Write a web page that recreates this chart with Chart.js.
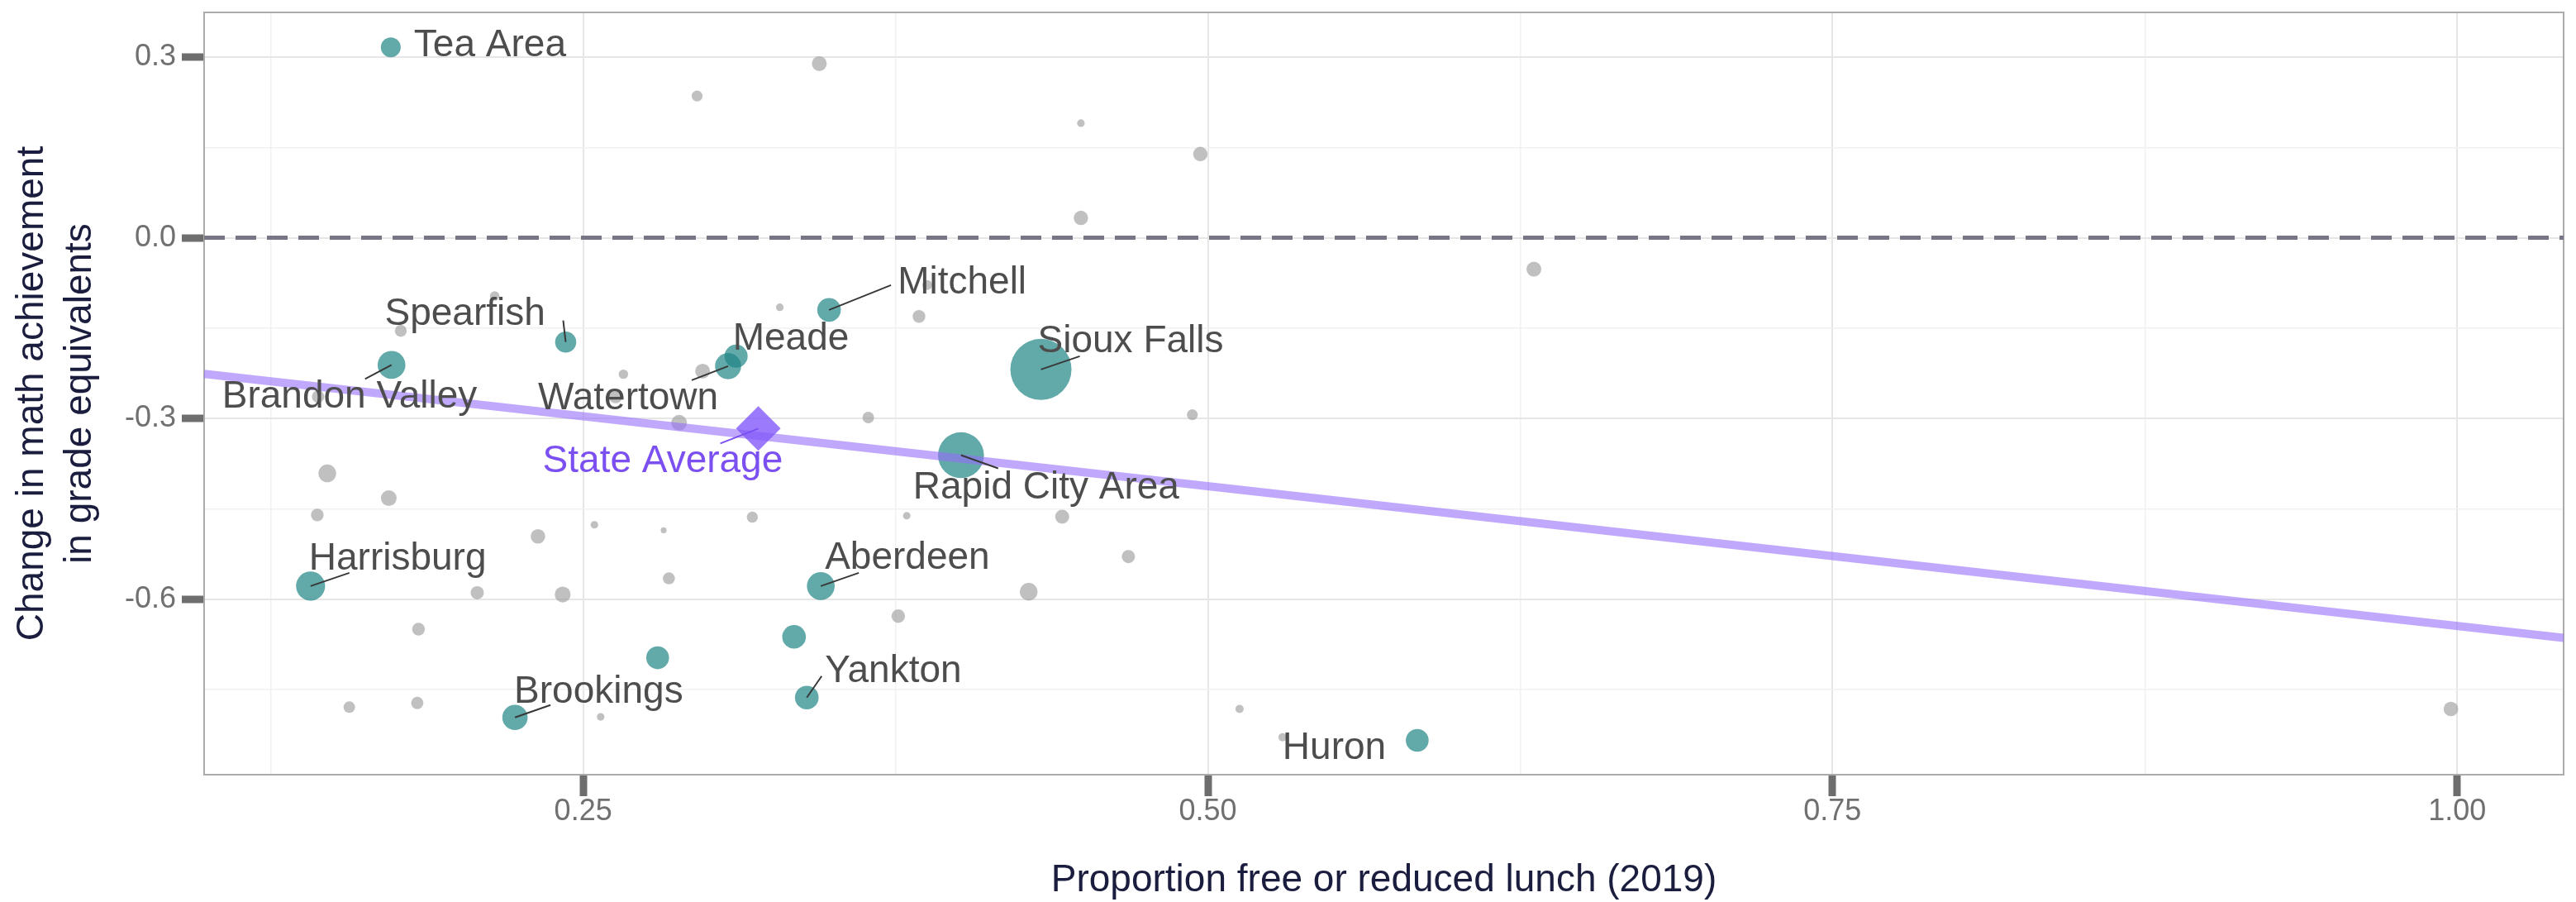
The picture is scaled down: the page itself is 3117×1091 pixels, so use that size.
<!DOCTYPE html>
<html>
<head>
<meta charset="utf-8">
<script src="https://cdn.jsdelivr.net/npm/chart.js@4.4.1/dist/chart.umd.min.js"></script>
<style>
html,body{margin:0;padding:0;background:#ffffff;}
#wrap{width:3117px;height:1091px;position:relative;}
</style>
</head>
<body>
<div id="wrap"><canvas id="c"></canvas></div>
<script>
// ---------------- DATA ----------------
// Highlighted districts (teal); null name = highlighted but unlabeled
const districtNames  = ['Tea Area','Spearfish','Brandon Valley','Watertown','Meade','Mitchell','Sioux Falls','Rapid City Area','Harrisburg','Aberdeen','Yankton','Brookings','Huron',null,null];
const districtFRL    = [0.173, 0.243, 0.1733, 0.308, 0.3112, 0.3484, 0.4332, 0.4012, 0.1409, 0.3451, 0.3395, 0.2227, 0.5838, 0.2798, 0.3344];
const districtChange = [0.316, -0.173, -0.211, -0.213, -0.1965, -0.1197, -0.2185, -0.3608, -0.578, -0.578, -0.763, -0.796, -0.834, -0.697, -0.6622];
const districtEnroll = [2500, 2844, 4900, 4334, 3403, 3550, 23767, 13417, 5378, 4900, 3550, 4064, 3306, 3306, 3550];

// Other districts (grey)
const otherFRL    = [0.3445, 0.2956, 0.4492, 0.497, 0.4492, 0.6305, 0.2146, 0.177, 0.2661, 0.3287, 0.3844, 0.3877, 0.2978, 0.1439, 0.263, 0.2884, 0.3641, 0.4938, 0.1476, 0.1722, 0.1436, 0.2319, 0.2545, 0.2822, 0.3177, 0.3795, 0.4417, 0.4682, 0.2076, 0.2418, 0.2843, 0.4283, 0.1841, 0.3761, 0.1564, 0.1836, 0.257, 0.5127, 0.5299, 0.9975];
const otherChange = [0.289, 0.2353, 0.1903, 0.139, 0.033, -0.0521, -0.0966, -0.1545, -0.2264, -0.1154, -0.1305, -0.0783, -0.2213, -0.2637, -0.2637, -0.307, -0.2983, -0.2936, -0.391, -0.432, -0.46, -0.4955, -0.4763, -0.4854, -0.4637, -0.4612, -0.4628, -0.529, -0.589, -0.592, -0.5652, -0.5874, -0.6495, -0.628, -0.779, -0.772, -0.795, -0.782, -0.829, -0.782];
const otherEnroll = [1406, 756, 367, 1314, 1314, 1406, 584, 900, 564, 367, 1029, 625, 1406, 977, 1111, 1567, 851, 756, 1988, 1567, 1029, 1344, 367, 213, 779, 352, 1254, 1111, 1111, 1600, 925, 1988, 1029, 1167, 851, 951, 367, 434, 434, 1344];

// State average
const stateLabel  = 'State Average';
const stateFRL    = [0.3201];
const stateChange = [-0.3166];

// Fitted regression line (change = intercept + slope * FRL)
const fitIntercept = -0.1803;
const fitSlope     = -0.464;

// Axes
const xRange = [0.0983, 1.0426];
const yRange = [-0.891, 0.374];
const xTicks      = [0.125, 0.25, 0.375, 0.5, 0.625, 0.75, 0.875, 1.0];
const xTickLabels = ['', '0.25', '', '0.50', '', '0.75', '', '1.00'];
const yTicks      = [-0.75, -0.6, -0.45, -0.3, -0.15, 0, 0.15, 0.3];
const yTickLabels = ['', '-0.6', '', '-0.3', '', '0.0', '', '0.3'];

const xTitle = 'Proportion free or reduced lunch (2019)';
const yTitle = ['Change in math achievement', 'in grade equivalents'];

// ---------------- LAYOUT / STYLE ----------------
// label offsets relative to point pixel: [textLeftDx, baselineDy, segEndDx, segEndDy]
const labelLayout = {
  'Tea Area':        [28, 11, null, null],
  'Spearfish':       [-219, -21, -3, -26],
  'Brandon Valley':  [-205, 52, -32, 17],
  'Watertown':       [-230, 52, -44, 17],
  'Meade':           [-4, -8, null, null],
  'Mitchell':        [83, -20, 75, -30],
  'Sioux Falls':     [-4, -21, 47, -16],
  'Rapid City Area': [-58, 52, 45, 16],
  'Harrisburg':      [-2, -20, 47, -16],
  'Aberdeen':        [5, -21, 46, -16],
  'Yankton':         [22, -19, 18, -26],
  'Brookings':       [-1, -18, 43, -15],
  'Huron':           [-163, 23, null, null]
};
const stateLayout = [-261, 53, -46, 18];

const FONT = '"Liberation Sans", Arial, Helvetica, sans-serif';
const radiusOf = n => 0.24 * Math.sqrt(n);
const isMajor = (arr, labels, v) => {
  const i = arr.findIndex(t => Math.abs(t - v) < 1e-9);
  return i >= 0 && labels[i] !== '';
};
const labelOf = (arr, labels, v) => {
  const i = arr.findIndex(t => Math.abs(t - v) < 1e-9);
  return i >= 0 ? labels[i] : '';
};

const framePlugin = {
  id: 'frame',
  beforeDatasetsDraw(chart) {
    const {ctx, chartArea: a} = chart;
    ctx.save();
    ctx.strokeStyle = '#ababab';
    ctx.lineWidth = 2;
    ctx.strokeRect(a.left, a.top, a.right - a.left, a.bottom - a.top);
    ctx.restore();
  }
};

const labelPlugin = {
  id: 'pointLabels',
  afterDatasetsDraw(chart) {
    const {ctx, scales: {x, y}} = chart;
    ctx.save();
    ctx.font = '46px ' + FONT;
    ctx.textAlign = 'left';
    ctx.textBaseline = 'alphabetic';
    districtNames.forEach((nm, i) => {
      if (!nm || !labelLayout[nm]) return;
      const L = labelLayout[nm];
      const px = x.getPixelForValue(districtFRL[i]);
      const py = y.getPixelForValue(districtChange[i]);
      if (L[2] !== null) {
        ctx.strokeStyle = '#383838';
        ctx.lineWidth = 2;
        ctx.beginPath();
        ctx.moveTo(px, py);
        ctx.lineTo(px + L[2], py + L[3]);
        ctx.stroke();
      }
      ctx.fillStyle = '#4d4d4d';
      ctx.fillText(nm, px + L[0], py + L[1]);
    });
    const sx = x.getPixelForValue(stateFRL[0]);
    const sy = y.getPixelForValue(stateChange[0]);
    ctx.strokeStyle = '#7b4ff0';
    ctx.lineWidth = 2;
    ctx.beginPath();
    ctx.moveTo(sx, sy);
    ctx.lineTo(sx + stateLayout[2], sy + stateLayout[3]);
    ctx.stroke();
    ctx.fillStyle = '#7b4ff0';
    ctx.fillText(stateLabel, sx + stateLayout[0], sy + stateLayout[1]);
    ctx.restore();
  }
};

const districtPts = districtFRL.map((v, i) => ({x: v, y: districtChange[i]}));
const otherPts = otherFRL.map((v, i) => ({x: v, y: otherChange[i]}));
const statePts = stateFRL.map((v, i) => ({x: v, y: stateChange[i]}));
const fitPts = xRange.map(v => ({x: v, y: fitIntercept + fitSlope * v}));
const zeroPts = xRange.map(v => ({x: v, y: 0}));

new Chart(document.getElementById('c'), {
  type: 'scatter',
  data: {
    datasets: [
      { type: 'line', label: 'zero', data: zeroPts, order: 6,
        borderColor: '#767686', borderWidth: 5, borderDash: [25, 13],
        pointRadius: 0, fill: false },
      { label: 'other', data: otherPts, order: 5,
        backgroundColor: 'rgba(150,150,150,0.6)', borderWidth: 0,
        pointRadius: ctx => radiusOf(otherEnroll[ctx.dataIndex]) },
      { label: 'district', data: districtPts, order: 4,
        backgroundColor: 'rgba(31,132,132,0.7)', borderWidth: 0,
        pointRadius: ctx => radiusOf(districtEnroll[ctx.dataIndex]) },
      { type: 'line', label: 'fit', data: fitPts, order: 3,
        borderColor: 'rgba(150,110,250,0.6)', borderWidth: 10,
        pointRadius: 0, fill: false },
      { label: 'state', data: statePts, order: 2,
        backgroundColor: 'rgba(130,90,250,0.8)', borderWidth: 0,
        pointStyle: 'rectRot', pointRadius: 27 }
    ]
  },
  options: {
    responsive: true,
    maintainAspectRatio: false,
    devicePixelRatio: 1,
    animation: false,
    events: [],
    layout: { autoPadding: false, padding: { left: 0, top: 15, right: 15, bottom: 0 } },
    plugins: { legend: { display: false }, tooltip: { enabled: false } },
    scales: {
      x: {
        type: 'linear', position: 'bottom',
        min: xRange[0], max: xRange[1],
        afterBuildTicks: s => { s.ticks = xTicks.map(v => ({value: v})); },
        afterFit: s => { s.height = 154; s.paddingLeft = 0; s.paddingRight = 0; },
        border: { display: false },
        grid: {
          color: c => isMajor(xTicks, xTickLabels, c.tick.value) ? '#e6e6e6' : '#f1f1f1',
          lineWidth: c => isMajor(xTicks, xTickLabels, c.tick.value) ? 2 : 1.5,
          drawTicks: true, tickLength: 26,
          tickColor: c => isMajor(xTicks, xTickLabels, c.tick.value) ? '#6e6e6e' : 'rgba(0,0,0,0)',
          tickWidth: c => isMajor(xTicks, xTickLabels, c.tick.value) ? 9 : 0
        },
        ticks: {
          autoSkip: false, maxRotation: 0, minRotation: 0,
          padding: 1,
          color: '#707070',
          font: { family: FONT, size: 36, lineHeight: 1.0 },
          callback: v => labelOf(xTicks, xTickLabels, v)
        },
        title: {
          display: true, text: xTitle, color: '#1a1d3d',
          font: { family: FONT, size: 46, lineHeight: 1.1 },
          padding: { top: 0, bottom: 0 }
        }
      },
      y: {
        type: 'linear', position: 'left',
        min: yRange[0], max: yRange[1],
        afterBuildTicks: s => { s.ticks = yTicks.map(v => ({value: v})); },
        afterFit: s => { s.width = 247; s.paddingTop = 0; s.paddingBottom = 0; },
        border: { display: false },
        grid: {
          color: c => isMajor(yTicks, yTickLabels, c.tick.value) ? '#e6e6e6' : '#f1f1f1',
          lineWidth: c => isMajor(yTicks, yTickLabels, c.tick.value) ? 2 : 1.5,
          drawTicks: true, tickLength: 27,
          tickColor: c => isMajor(yTicks, yTickLabels, c.tick.value) ? '#6e6e6e' : 'rgba(0,0,0,0)',
          tickWidth: c => isMajor(yTicks, yTickLabels, c.tick.value) ? 9 : 0
        },
        ticks: {
          autoSkip: false,
          padding: 7,
          color: '#707070',
          font: { family: FONT, size: 36, lineHeight: 1.0 },
          callback: v => labelOf(yTicks, yTickLabels, v)
        },
        title: {
          display: true, text: yTitle, color: '#1a1d3d',
          font: { family: FONT, size: 46, lineHeight: 1.26 },
          padding: { top: 10, bottom: 0 }
        }
      }
    }
  },
  plugins: [framePlugin, labelPlugin]
});
</script>
</body>
</html>
